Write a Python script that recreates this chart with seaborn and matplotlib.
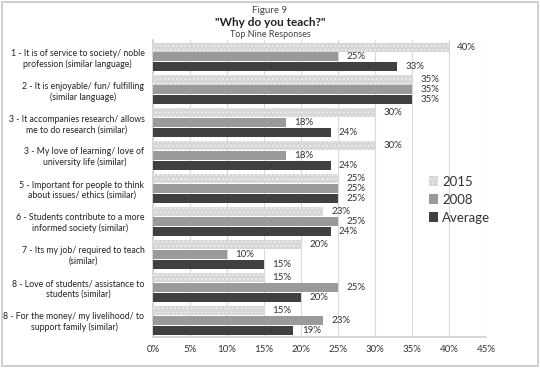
import matplotlib
matplotlib.use("Agg")
import matplotlib.pyplot as plt
import seaborn as sns
import pandas as pd
from matplotlib.patches import Patch

categories = [
    "1 - It is of service to society/ noble\nprofession (similar language)",
    "2 - It is enjoyable/ fun/ fulfilling\n(similar language)",
    "3 - It accompanies research/ allows\nme to do research (similar)",
    "3 - My love of learning/ love of\nuniversity life (similar)",
    "5 - Important for people to think\nabout issues/ ethics (similar)",
    "6 - Students contribute to a more\ninformed society (similar)",
    "7 - Its my job/ required to teach\n(similar)",
    "8 - Love of students/ assistance to\nstudents (similar)",
    "8 - For the money/ my livelihood/ to\nsupport family (similar)",
]
series = ["2015", "2008", "Average"]
v2015 = [40, 35, 30, 30, 25, 23, 20, 15, 15]
v2008 = [25, 35, 18, 18, 25, 25, 10, 25, 23]
vavg = [33, 35, 24, 24, 25, 24, 15, 20, 19]
xticks = [0, 5, 10, 15, 20, 25, 30, 35, 40, 45]

rows = []
for s, vals in zip(series, [v2015, v2008, vavg]):
    for c, v in zip(categories, vals):
        rows.append({"cat": c, "series": s, "value": v})
df = pd.DataFrame(rows)

sns.set_theme(style="white")
plt.rcParams['font.family'] = ['Lato', 'DejaVu Sans']

colors = {"2015": "#d6d6d6", "2008": "#9a9a9a", "Average": "#404040"}

fig = plt.figure(figsize=(5.4, 3.68), dpi=100)
ax = fig.add_axes([0.283, 0.085, 0.617, 0.805])

sns.barplot(data=df, y="cat", x="value", hue="series", hue_order=series,
            order=categories, palette=colors, orient="h", width=0.9, gap=0.08,
            ax=ax, legend=False, linewidth=0, zorder=3)

plt.rcParams['hatch.linewidth'] = 1.0
for i, cont in enumerate(ax.containers):
    s = series[i]
    for bar in cont:
        if s == "2015":
            bar.set_hatch("....")
            bar.set_edgecolor("#ececec")
            bar.set_linewidth(0)
    ax.bar_label(cont, labels=[f"{int(v)}%" for v in cont.datavalues],
                 padding=6, fontsize=7, color="#333333")

ax.set_xlim(0, 45)
ax.set_xticks(xticks)
ax.set_xticklabels([f"{t}%" for t in xticks], fontsize=7, color="#333333")
ax.tick_params(axis="x", length=3, color="#d0d0d0", pad=3)
ax.tick_params(axis="y", length=0, labelsize=6.3, labelcolor="#222222", pad=6)
for lab in ax.get_yticklabels():
    lab.set_multialignment("center")
ax.grid(axis="x", color="#d9d9d9", linewidth=0.8, zorder=0)
for sp in ["top", "right"]:
    ax.spines[sp].set_visible(False)
ax.spines["left"].set_color("#d0d0d0")
ax.spines["bottom"].set_color("#d0d0d0")
ax.set_xlabel("")
ax.set_ylabel("")

handles = [Patch(facecolor=colors[s], edgecolor=("#ececec" if s == "2015" else colors[s]),
                 hatch=("...." if s == "2015" else None), linewidth=0) for s in series]
fig.legend(handles, series, loc="upper left", bbox_to_anchor=(0.772, 0.555),
           frameon=False, fontsize=9.5, handlelength=0.7, handleheight=0.7,
           handletextpad=0.3, labelspacing=0.45, labelcolor="#333333")

fig.text(0.5, 0.972, "Figure 9", ha="center", va="center", fontsize=7, color="#444444")
fig.text(0.5, 0.938, "\"Why do you teach?\"", ha="center", va="center", fontsize=8.5,
         fontweight="bold", color="#222222")
fig.text(0.5, 0.905, "Top Nine Responses", ha="center", va="center", fontsize=6.5, color="#444444")

fig.patches.append(plt.Rectangle((0.003, 0.005), 0.994, 0.99, transform=fig.transFigure,
                                 fill=False, edgecolor="#c8c8c8", linewidth=1.2))

fig.savefig("out.png", dpi=100)
